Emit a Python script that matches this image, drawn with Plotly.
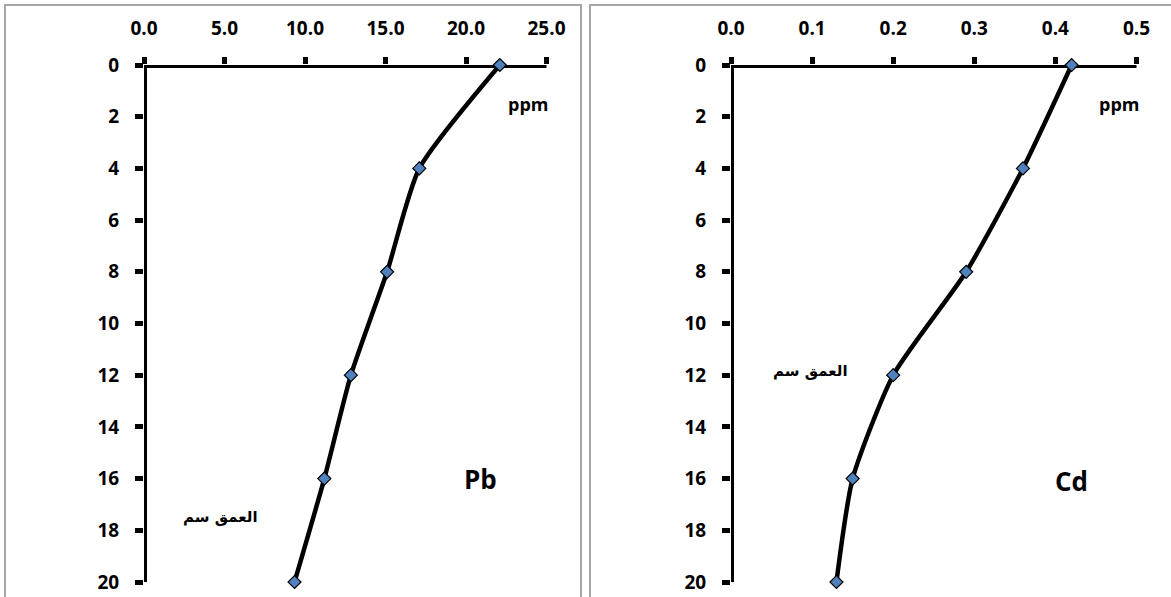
import plotly.graph_objects as go

W, H = 1171, 597

# ---- data ----
depth = [0, 4, 8, 12, 16, 20]
pb_ppm = [22.1, 17.1, 15.1, 12.85, 11.2, 9.35]
cd_ppm = [0.42, 0.36, 0.29, 0.20, 0.15, 0.13]
pb_ticks = [0, 5, 10, 15, 20, 25]
cd_ticks = [0.0, 0.1, 0.2, 0.3, 0.4, 0.5]
depth_ticks = [0, 2, 4, 6, 8, 10, 12, 14, 16, 18, 20]
depth_label = "العمق سم"
unit_label = "ppm"

def px(x):
    return x / W

def py(y):
    return 1 - y / H

fig = go.Figure()

marker = dict(symbol="diamond", size=10, color="#4F81BD", line=dict(color="black", width=1.2))
fig.add_trace(go.Scatter(x=pb_ppm, y=depth, mode="lines+markers", xaxis="x", yaxis="y",
                         line=dict(color="black", width=4.5, shape="spline", smoothing=0.6),
                         marker=marker, cliponaxis=False, showlegend=False))
fig.add_trace(go.Scatter(x=cd_ppm, y=depth, mode="lines+markers", xaxis="x2", yaxis="y2",
                         line=dict(color="black", width=4.5, shape="spline", smoothing=0.6),
                         marker=marker, cliponaxis=False, showlegend=False))

tickfont = dict(family="Open Sans", size=19, color="black", weight="bold")
ydom = [py(582), py(65)]

common_x = dict(side="top", showgrid=False, zeroline=False, showline=False,
                ticks="outside", ticklen=7, tickwidth=5, tickcolor="black",
                tickfont=tickfont, ticklabelstandoff=14, fixedrange=True, automargin=False)
common_y = dict(showgrid=False, zeroline=False, showline=False,
                ticks="outside", ticklen=8, tickwidth=5, tickcolor="black",
                tickfont=tickfont, range=[20, 0], tickvals=depth_ticks,
                ticklabelstandoff=12, fixedrange=True, automargin=False)

fig.update_layout(
    width=W, height=H, autosize=False,
    margin=dict(l=0, r=0, t=0, b=0, pad=0, autoexpand=False),
    showlegend=False,
    paper_bgcolor="white", plot_bgcolor="white",
    xaxis=dict(domain=[px(144), px(546.5)], range=[0, 25], anchor="y",
               tickvals=pb_ticks, tickformat=".1f", **common_x),
    yaxis=dict(domain=ydom, anchor="x", **common_y),
    xaxis2=dict(domain=[px(731), px(1136.5)], range=[0, 0.5], anchor="y2",
                tickvals=cd_ticks, tickformat=".1f", **common_x),
    yaxis2=dict(domain=ydom, anchor="x2", **common_y),
)

# axis lines drawn through the zero of each scale
for xr, yr, xmax, ext_x, ext_y in [("x", "y", 25, 0.19, 0.12), ("x2", "y2", 0.5, 0.0037, 0.12)]:
    fig.add_shape(type="line", xref=xr, yref=yr, x0=-ext_x, x1=xmax + ext_x * 0.5, y0=0, y1=0,
                  line=dict(color="black", width=6), layer="below")
    fig.add_shape(type="line", xref=xr, yref=yr, x0=0, x1=0, y0=20.1, y1=-ext_y,
                  line=dict(color="black", width=6), layer="below")

# panel borders
border = dict(color="#A6A6A6", width=2)
fig.add_shape(type="path", xref="paper", yref="paper",
              path=f"M {px(5)},0 L {px(5)},{py(5)} L {px(581)},{py(5)} L {px(581)},0",
              line=border, layer="below")
fig.add_shape(type="path", xref="paper", yref="paper",
              path=f"M {px(590)},0 L {px(590)},{py(5)} L 1,{py(5)}",
              line=border, layer="below")

ann_font = dict(family="Open Sans", size=18, color="black", weight="bold")
ar_font = dict(family="DejaVu Sans", size=15, color="black", weight="bold")
big_font = dict(family="Open Sans", size=26, color="black", weight="bold")
for x, y, t, f in [
    (528, 104, unit_label, ann_font), (1119, 104, unit_label, ann_font),
    (220, 517, depth_label, ar_font), (810, 371, depth_label, ar_font),
    (480, 479, "Pb", big_font), (1071, 481, "Cd", big_font),
]:
    fig.add_annotation(xref="paper", yref="paper", x=px(x), y=py(y), text=t, showarrow=False,
                       xanchor="center", yanchor="middle", font=f)

fig.write_html("out.html")
